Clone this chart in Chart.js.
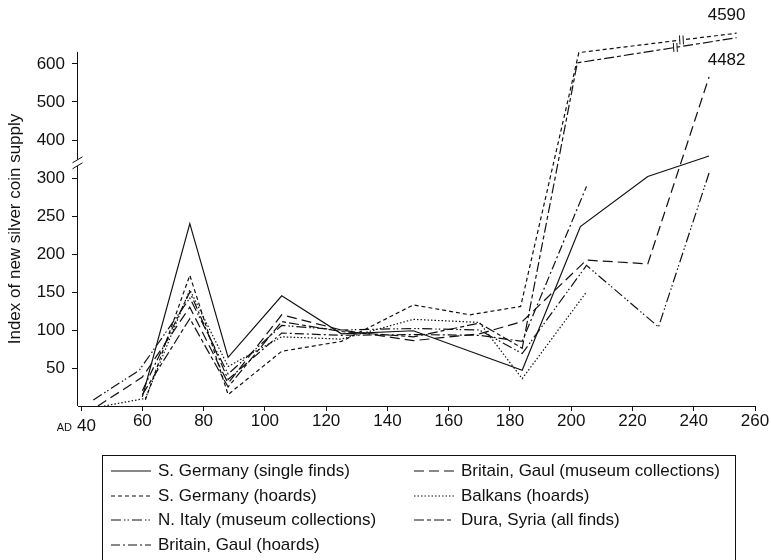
<!DOCTYPE html>
<html>
<head>
<meta charset="utf-8">
<script src="https://cdn.jsdelivr.net/npm/chart.js@4"></script>
<style>
html, body { margin: 0; padding: 0; background: #fff; }
</style>
</head>
<body>
<canvas id="grafico" width="771" height="560"></canvas>
<script>
// Años y valores de cada serie
const sgSueltasAnios = [60, 75.5, 88, 105.5, 125, 148.5, 184, 203, 225, 245];
const sgSueltas = [12, 240, 64, 145, 95, 99, 47, 236, 304, 358];

const sgTesorosAnios = [61, 75.5, 88, 105.5, 125, 148.5, 167, 183.5, 202.5, 254];
const sgTesoros = [8, 172, 15, 72, 85, 133, 120, 131, 630, 4590];

const italiaAnios = [44, 59, 75.5, 88, 105.5, 125, 148.5, 170, 184, 205, 228.5, 245];
const italia = [8, 47, 142, 42, 106, 100, 102, 100, 69, 185, 104, 313];

const britTesorosAnios = [60, 75.5, 88, 105.5, 125, 148.5, 170, 184, 205];
const britTesoros = [20, 150, 35, 96, 93, 94, 93, 85, 289];

const britMuseoAnios = [45.5, 60, 75.5, 88, 105.5, 125, 148.5, 170, 184, 205, 225, 245];
const britMuseo = [0, 38, 130, 30, 120, 100, 86, 95, 111, 192, 187, 566];

const balcanesAnios = [47.5, 61, 75.5, 88, 105.5, 125, 148.5, 170, 184, 205];
const balcanes = [0, 10, 153, 52, 91, 88, 114, 110, 36, 150];

const duraAnios = [60, 75.5, 88, 105.5, 125, 148.5, 170, 184, 202, 254];
const dura = [15, 115, 25, 111, 98, 91, 109, 76, 603, 4482];

const xTicks = [40, 60, 80, 100, 120, 140, 160, 180, 200, 220, 240, 260];
const yTicks = [50, 100, 150, 200, 250, 300, 400, 500, 600];

const fuente = "'Liberation Sans', Arial, sans-serif";
const tinta = "#111";

// Escala cortada: 0-300 normal, 300-1000 a la mitad, arriba de 1000 muy comprimida
function aEscala(v) {
    if (v <= 300) return v;
    if (v <= 1000) return 300 + (v - 300) / 2;
    return 480 + (v - 4400) / 18;
}
function deEscala(t) {
    return t <= 300 ? t : 300 + (t - 300) * 2;
}

function puntos(anios, valores) {
    return anios.map((a, i) => ({ x: a, y: aEscala(valores[i]), real: valores[i] }));
}

let series = [
    { label: "S. Germany (single finds)", data: puntos(sgSueltasAnios, sgSueltas), dash: [] },
    { label: "S. Germany (hoards)", data: puntos(sgTesorosAnios, sgTesoros), dash: [4, 3] },
    { label: "N. Italy (museum collections)", data: puntos(italiaAnios, italia), dash: [10, 3, 1.5, 2, 1.5, 3] },
    { label: "Britain, Gaul (hoards)", data: puntos(britTesorosAnios, britTesoros), dash: [9, 3, 2, 3] },
    { label: "Britain, Gaul (museum collections)", data: puntos(britMuseoAnios, britMuseo), dash: [10, 5] },
    { label: "Balkans (hoards)", data: puntos(balcanesAnios, balcanes), dash: [1.5, 2] },
    { label: "Dura, Syria (all finds)", data: puntos(duraAnios, dura), dash: [10, 3, 4, 3] }
];

// Extras: eje y con corte, "AD", cortes en las líneas, etiquetas, título y leyenda
const extras = {
    id: "extras",
    afterDraw(chart) {
        const ctx = chart.ctx;
        const xs = chart.scales.x, ys = chart.scales.y;
        const area = chart.chartArea;
        ctx.save();
        ctx.strokeStyle = tinta;
        ctx.fillStyle = tinta;
        ctx.lineWidth = 1;

        // eje y con marca de corte
        let ejeX = Math.round(area.left) - 0.5;
        let yTop = ys.getPixelForValue(aEscala(632));
        let yCorte = ys.getPixelForValue(aEscala(340));
        ctx.beginPath();
        ctx.moveTo(ejeX, yTop);
        ctx.lineTo(ejeX, yCorte - 3);
        ctx.moveTo(ejeX, yCorte + 3);
        ctx.lineTo(ejeX, area.bottom);
        ctx.stroke();
        ctx.beginPath();
        ctx.moveTo(ejeX - 5, yCorte);
        ctx.lineTo(ejeX + 5, yCorte - 6);
        ctx.moveTo(ejeX - 5, yCorte + 6);
        ctx.lineTo(ejeX + 5, yCorte);
        ctx.stroke();

        // "AD 40"
        let yLab = area.bottom + 12;
        ctx.textBaseline = "top";
        ctx.font = "17px " + fuente;
        ctx.textAlign = "left";
        ctx.fillText("40", 77, yLab);
        ctx.font = "11px " + fuente;
        ctx.textAlign = "right";
        ctx.fillText("AD", 72, yLab + 4);

        // cortes y etiquetas de las series que salen de la escala
        const cortes = { 1: { anio: 236, dy: -18 }, 6: { anio: 234, dy: 23 } };
        Object.keys(cortes).forEach(k => {
            let meta = chart.getDatasetMeta(+k).data;
            let p1 = meta[meta.length - 2], p2 = meta[meta.length - 1];
            let bx = xs.getPixelForValue(cortes[k].anio);
            let f = (bx - p1.x) / (p2.x - p1.x);
            let by = p1.y + f * (p2.y - p1.y);
            ctx.fillStyle = "#fff";
            ctx.fillRect(bx - 1.5, by - 3, 3, 6);
            ctx.beginPath();
            ctx.moveTo(bx - 2, by - 4.5); ctx.lineTo(bx - 1.5, by + 4.5);
            ctx.moveTo(bx + 1.5, by - 4.5); ctx.lineTo(bx + 2, by + 4.5);
            ctx.stroke();
            ctx.fillStyle = tinta;
            ctx.font = "17px " + fuente;
            ctx.textAlign = "center";
            ctx.textBaseline = "middle";
            let real = series[k].data[series[k].data.length - 1].real;
            ctx.fillText(String(real), p2.x - 10, p2.y + cortes[k].dy);
        });

        // título del eje y
        ctx.save();
        ctx.translate(15, 229);
        ctx.rotate(-Math.PI / 2);
        ctx.font = "17px " + fuente;
        ctx.textAlign = "center";
        ctx.textBaseline = "middle";
        ctx.fillText("Index of new silver coin supply", 0, 0);
        ctx.restore();

        // leyenda en dos columnas
        ctx.strokeRect(102.5, 455.5, 633, 120);
        const columnas = [[0, 1, 2, 3], [4, 5, 6]];
        const colX = [111, 414];
        const filasY = [471, 496, 520, 545];
        ctx.font = "17px " + fuente;
        ctx.textAlign = "left";
        ctx.textBaseline = "middle";
        columnas.forEach((col, c) => {
            col.forEach((idx, f) => {
                let x0 = colX[c], y0 = filasY[f];
                ctx.beginPath();
                ctx.setLineDash(series[idx].dash);
                ctx.moveTo(x0, y0);
                ctx.lineTo(x0 + 40, y0);
                ctx.stroke();
                ctx.setLineDash([]);
                ctx.fillText(series[idx].label, x0 + 47, y0);
            });
        });
        ctx.restore();
    }
};

Chart.defaults.font.family = fuente;
Chart.defaults.color = tinta;

let ctx = document.getElementById("grafico").getContext("2d");
let grafico = new Chart(ctx, {
    type: "line",
    data: {
        datasets: series.map(s => ({
            label: s.label,
            data: s.data,
            borderColor: tinta,
            borderWidth: 1.2,
            borderDash: s.dash,
            pointRadius: 0,
            tension: 0,
            fill: false
        }))
    },
    options: {
        responsive: false,
        animation: false,
        layout: { padding: { top: 26, right: 16, left: 0, bottom: 0 } },
        plugins: { legend: { display: false }, tooltip: { enabled: false } },
        scales: {
            x: {
                type: "linear",
                min: 39,
                max: 260,
                afterBuildTicks: s => { s.ticks = xTicks.map(v => ({ value: v })); },
                afterFit: s => { s.height = 154; },
                ticks: {
                    autoSkip: false,
                    maxRotation: 0,
                    padding: 0,
                    color: tinta,
                    font: { size: 17 },
                    callback: v => v === 40 ? "" : String(v)
                },
                grid: { drawOnChartArea: false, tickLength: 5, color: tinta },
                border: { display: true, color: tinta, width: 1 }
            },
            y: {
                type: "linear",
                min: 0,
                max: 500,
                afterBuildTicks: s => { s.ticks = yTicks.map(v => ({ value: aEscala(v) })); },
                afterFit: s => { s.width = 78; },
                ticks: {
                    autoSkip: false,
                    padding: 7,
                    color: tinta,
                    font: { size: 17 },
                    callback: v => String(Math.round(deEscala(v)))
                },
                grid: { drawOnChartArea: false, tickLength: 6, color: tinta },
                border: { display: false }
            }
        }
    },
    plugins: [extras]
});
</script>
</body>
</html>
